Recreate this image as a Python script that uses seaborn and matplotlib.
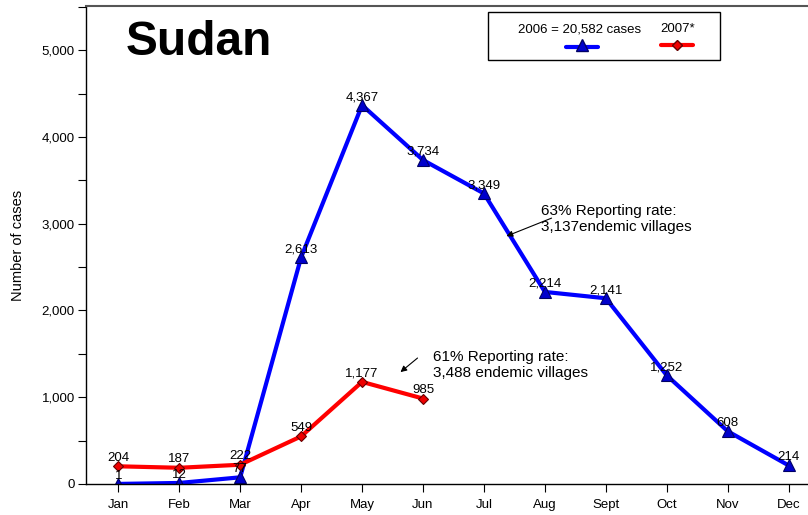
import numpy as np
import pandas as pd
import matplotlib.pyplot as plt
import seaborn as sns
from matplotlib.lines import Line2D
from matplotlib.patches import Rectangle
from matplotlib.ticker import FuncFormatter, MultipleLocator

months = ['Jan', 'Feb', 'Mar', 'Apr', 'May', 'Jun', 'Jul', 'Aug', 'Sept', 'Oct', 'Nov', 'Dec']
cases_2006 = [1, 12, 77, 2613, 4367, 3734, 3349, 2214, 2141, 1252, 608, 214]
cases_2007 = [204, 187, 222, 549, 1177, 985]

sns.set_style('white')
plt.rcParams['font.family'] = ['Liberation Sans', 'DejaVu Sans']
plt.rcParams['text.color'] = 'black'
plt.rcParams['axes.labelcolor'] = 'black'
plt.rcParams['xtick.color'] = 'black'
plt.rcParams['ytick.color'] = 'black'

df06 = pd.DataFrame({'pos': np.arange(len(cases_2006)), 'cases': cases_2006})
df07 = pd.DataFrame({'pos': np.arange(len(cases_2007)), 'cases': cases_2007})

fig = plt.figure(figsize=(8.08, 5.15), dpi=100)
ax = fig.add_axes([86 / 808, 1 - 484 / 515, 1 - 86 / 808 + 0.01, (484 - 6) / 515])

sns.lineplot(data=df06, x='pos', y='cases', ax=ax, color='#0000ff', lw=3,
             marker='^', markersize=8, markerfacecolor='#0000cc',
             markeredgecolor='#000066', markeredgewidth=0.8)
sns.lineplot(data=df07, x='pos', y='cases', ax=ax, color='#ff0000', lw=3,
             marker='D', markersize=5.5, markerfacecolor='#ee0000',
             markeredgecolor='#660000', markeredgewidth=0.8)

for x, y in zip(df06['pos'], df06['cases']):
    ax.annotate(f'{y:,}', (x, y), xytext=(0, 1.5), textcoords='offset points',
                ha='center', va='bottom', fontsize=9.5)
for x, y in zip(df07['pos'], df07['cases']):
    ax.annotate(f'{y:,}', (x, y), xytext=(0, 2), textcoords='offset points',
                ha='center', va='bottom', fontsize=9.5)

ax.set_xlim(-0.53, 11.45)
ax.set_ylim(0, 5510)
ax.set_xticks(range(len(months)))
ax.set_xticklabels(months, fontsize=9.5)
ax.yaxis.set_major_locator(MultipleLocator(1000))
ax.yaxis.set_minor_locator(MultipleLocator(500))
ax.yaxis.set_major_formatter(FuncFormatter(lambda v, p: f'{int(v):,}'))
ax.tick_params(axis='y', which='major', left=True, length=6, width=0.8, labelsize=9.5, pad=2)
ax.tick_params(axis='y', which='minor', left=True, length=6, width=0.8)
ax.tick_params(axis='x', bottom=True, length=6, width=0.8, pad=5)
ax.set_xlabel('')
ax.set_ylabel('Number of cases', fontsize=10.5, labelpad=12)

for s in ['left', 'bottom']:
    ax.spines[s].set_color('black')
    ax.spines[s].set_linewidth(1)
ax.spines['top'].set_color('#555555')
ax.spines['top'].set_linewidth(1.5)
ax.spines['right'].set_visible(False)

ax.text(0.054, 0.97, 'Sudan', transform=ax.transAxes, fontsize=34.5,
        fontweight='bold', va='top', ha='left')


def fx(px):
    return px / 808


def fy(py):
    return 1 - py / 515


# legend box
fig.patches.append(Rectangle((fx(488), fy(60)), fx(720) - fx(488), fy(12) - fy(60),
                             transform=fig.transFigure, fill=False,
                             edgecolor='black', lw=1))
fig.text(fx(580), fy(29), '2006 = 20,582 cases', fontsize=9.5, ha='center', va='center')
fig.text(fx(678), fy(29), '2007*', fontsize=9.5, ha='center', va='center')
fig.add_artist(Line2D([fx(566), fx(598)], [fy(47), fy(47)], transform=fig.transFigure,
                      color='#0000ff', lw=3))
fig.add_artist(Line2D([fx(582)], [fy(45)], transform=fig.transFigure, marker='^',
                      markersize=8, color='#0000cc', markeredgecolor='#000066', lw=0))
fig.add_artist(Line2D([fx(661), fx(693)], [fy(45), fy(45)], transform=fig.transFigure,
                      color='#ff0000', lw=3))
fig.add_artist(Line2D([fx(677)], [fy(45)], transform=fig.transFigure, marker='D',
                      markersize=5.5, color='#ee0000', markeredgecolor='#660000', lw=0))

# annotations
arrow = dict(arrowstyle='-|>', color='black', lw=0.8, shrinkA=0, shrinkB=0,
             mutation_scale=9)
ax.annotate('', xy=(6.37, 2857), xytext=(7.11, 3065), arrowprops=arrow)
ax.text(6.93, 3053, '63% Reporting rate:\n3,137endemic villages', fontsize=11,
        va='center', ha='left', linespacing=1.2)
ax.annotate('', xy=(4.63, 1290), xytext=(4.91, 1452), arrowprops=arrow)
ax.text(5.17, 1371, '61% Reporting rate:\n3,488 endemic villages', fontsize=11,
        va='center', ha='left', linespacing=1.2)

fig.savefig('out.png', dpi=100)
